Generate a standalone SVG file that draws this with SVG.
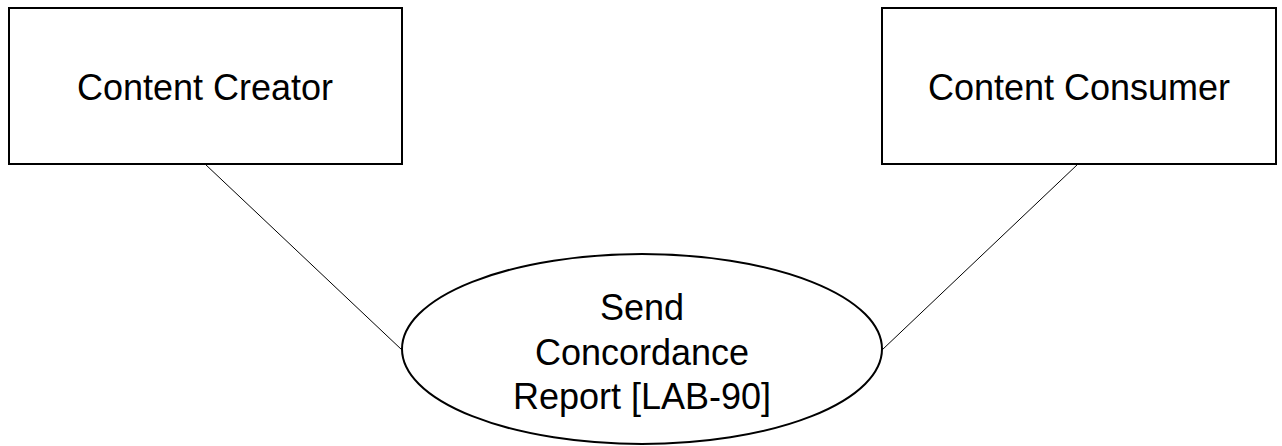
<svg xmlns="http://www.w3.org/2000/svg" width="1282" height="446" viewBox="0 0 1282 446">
<style>
.box{fill:#fff;stroke:#000;stroke-width:2}
.lbl{font-family:"Liberation Sans",Arial,sans-serif;font-size:36px;fill:#000;text-anchor:middle}
.conn{stroke:#000;stroke-width:1;fill:none}
</style>
<rect width="1282" height="446" fill="#fff"/>
<g id="connectors">
<line class="conn" x1="205" y1="164" x2="402" y2="350"/>
<line class="conn" x1="1078" y1="164" x2="882" y2="350"/>
</g>
<g id="content-creator">
<rect class="box" x="9" y="8" width="393" height="156"/>
<text class="lbl" x="205" y="100">Content Creator</text>
</g>
<g id="content-consumer">
<rect class="box" x="882" y="8" width="394" height="156"/>
<text class="lbl" x="1079" y="100">Content Consumer</text>
</g>
<g id="send-concordance-report">
<ellipse class="box" cx="642" cy="349" rx="240" ry="95"/>
<text class="lbl" x="642" y="320">Send</text>
<text class="lbl" x="642" y="365">Concordance</text>
<text class="lbl" x="642" y="409">Report [LAB-90]</text>
</g>
</svg>
